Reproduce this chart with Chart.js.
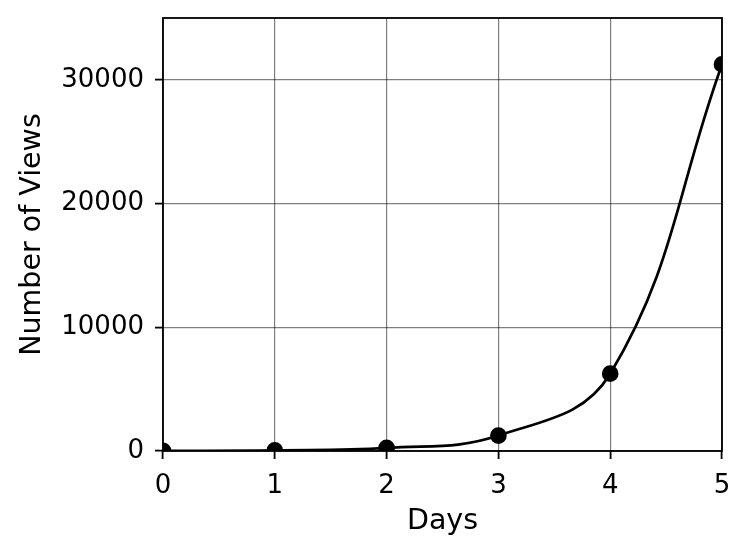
<!DOCTYPE html>
<html>
<head>
<meta charset="utf-8">
<script src="https://cdn.jsdelivr.net/npm/chart.js@4/dist/chart.umd.min.js"></script>
<style>
  html, body { margin: 0; padding: 0; background: #fff; }
  #wrap { width: 749px; height: 555px; }
</style>
</head>
<body>
<div id="wrap"><canvas id="chart" width="749" height="555"></canvas></div>
<script>
const days = [0, 1, 2, 3, 4, 5];
const views = [10, 50, 250, 1250, 6250, 31250];
const xTicks = [0, 1, 2, 3, 4, 5];
const yTicks = [0, 10000, 20000, 30000];

const font = "'DejaVu Sans', sans-serif";

// black box round the plot area
const frame = {
  id: 'frame',
  afterDatasetsDraw(chart) {
    const a = chart.chartArea;
    const ctx = chart.ctx;
    ctx.save();
    ctx.strokeStyle = '#000';
    ctx.lineWidth = 1.8;
    ctx.strokeRect(a.left, a.top, a.right - a.left, a.bottom - a.top);
    ctx.restore();
  }
};

new Chart(document.getElementById('chart'), {
  type: 'line',
  data: {
    datasets: [{
      data: days.map((d, i) => ({ x: d, y: views[i] })),
      borderColor: '#000',
      backgroundColor: '#000',
      borderWidth: 2.7,
      pointRadius: 7,
      pointHoverRadius: 7,
      tension: 0.4,
      clip: 0
    }]
  },
  options: {
    responsive: false,
    animation: false,
    layout: { padding: { top: 18, right: 27, left: 0, bottom: 0 } },
    plugins: { legend: { display: false }, tooltip: { enabled: false } },
    scales: {
      x: {
        type: 'linear',
        min: 0,
        max: 5,
        afterBuildTicks: s => { s.ticks = xTicks.map(v => ({ value: v })); },
        afterFit: s => { s.height = 104; s.paddingLeft = 0; s.paddingRight = 0; },
        grid: { color: 'rgba(0,0,0,0.5)', lineWidth: 1.2, tickLength: 8, tickColor: '#000', tickWidth: 1.8 },
        border: { display: false },
        ticks: { color: '#000', font: { family: font, size: 26 }, padding: 12, maxRotation: 0 },
        title: { display: true, text: 'Days', color: '#000', font: { family: font, size: 28.5 }, padding: { top: 0, bottom: 16 } }
      },
      y: {
        min: 0,
        max: 35000,
        afterBuildTicks: s => { s.ticks = yTicks.map(v => ({ value: v })); },
        afterFit: s => { s.width = 163; s.paddingTop = 0; s.paddingBottom = 0; },
        grid: { color: 'rgba(0,0,0,0.5)', lineWidth: 1.2, tickLength: 8, tickColor: '#000', tickWidth: 1.8 },
        border: { display: false },
        ticks: { color: '#000', font: { family: font, size: 26 }, padding: 11, callback: v => String(v) },
        title: { display: true, text: 'Number of Views', color: '#000', font: { family: font, size: 28.5 }, padding: { top: 15, bottom: 0 } }
      }
    }
  },
  plugins: [frame]
});
</script>
</body>
</html>
